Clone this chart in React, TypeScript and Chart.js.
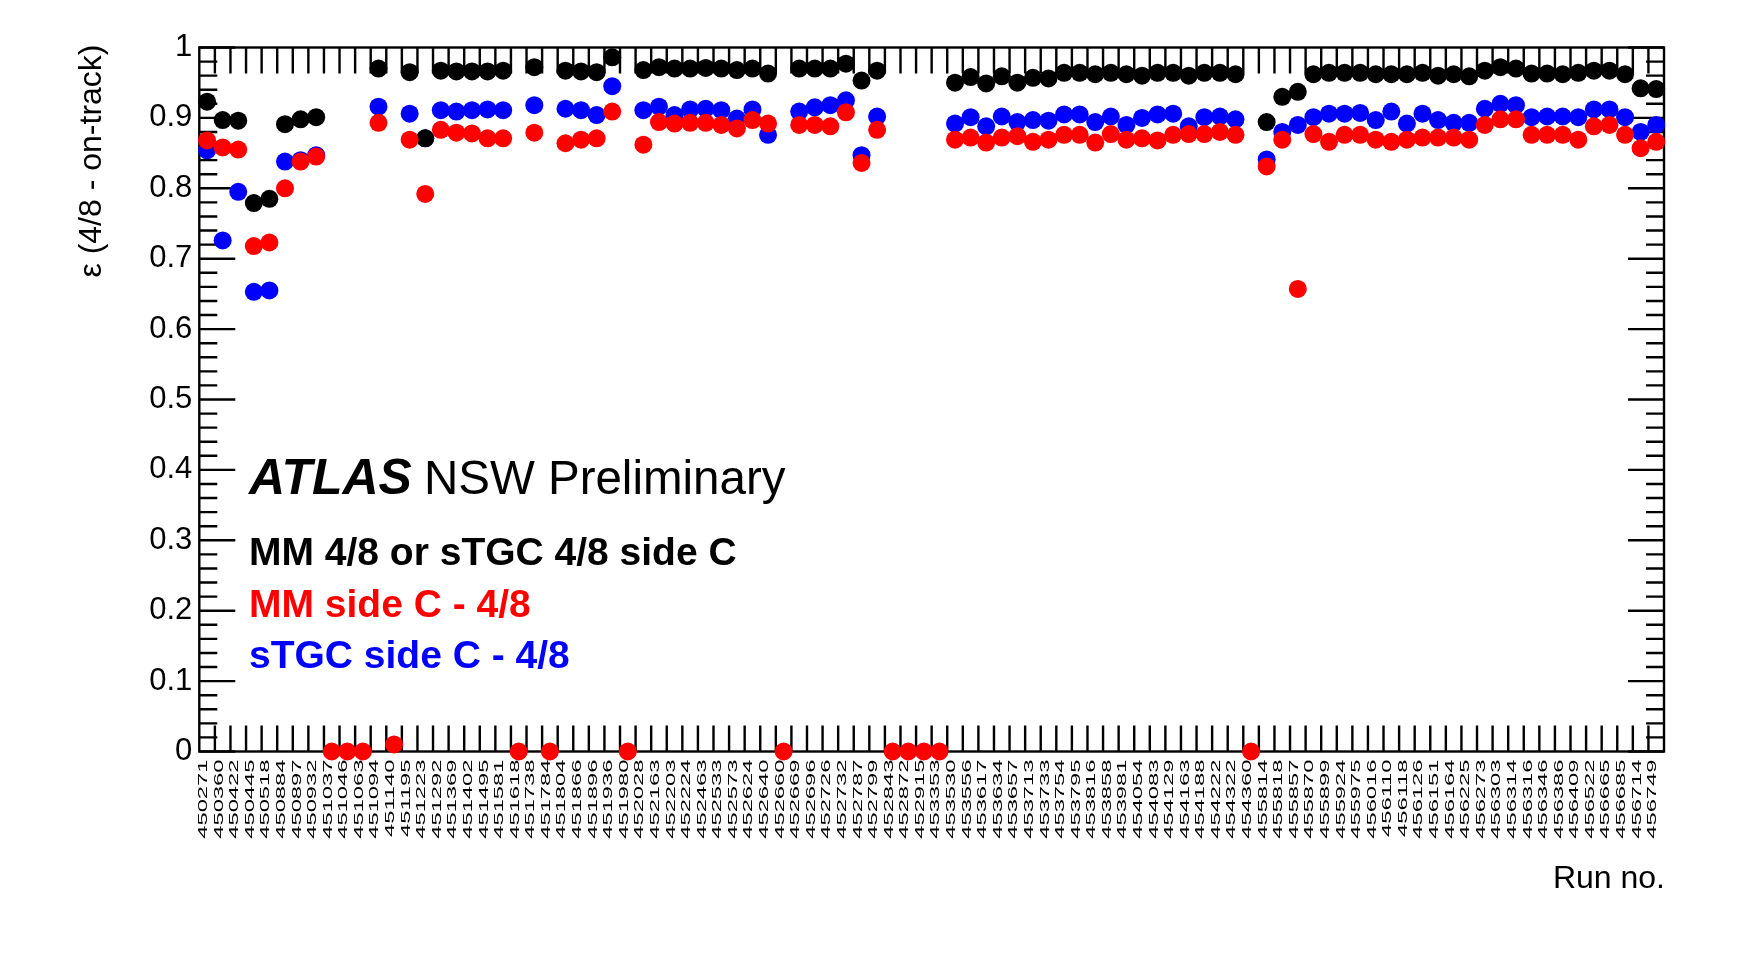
import { useEffect, useRef } from "react";
import { Chart, registerables } from "chart.js";

Chart.register(...registerables);

// run numbers on the x axis
const runs = [
  "450271", "450360", "450422", "450445", "450518", "450884", "450897", "450932",
  "451037", "451046", "451063", "451094", "451140", "451195", "451223", "451292",
  "451369", "451402", "451495", "451581", "451618", "451738", "451784", "451804",
  "451866", "451896", "451936", "451980", "452028", "452163", "452203", "452224",
  "452463", "452533", "452573", "452624", "452640", "452660", "452669", "452696",
  "452726", "452732", "452787", "452799", "452843", "452872", "452915", "453353",
  "453530", "453556", "453617", "453634", "453657", "453713", "453733", "453754",
  "453795", "453816", "453858", "453981", "454054", "454083", "454129", "454163",
  "454188", "454222", "454322", "454360", "455814", "455818", "455857", "455870",
  "455899", "455924", "455975", "456016", "456110", "456118", "456126", "456151",
  "456164", "456225", "456273", "456303", "456314", "456316", "456346", "456386",
  "456409", "456522", "456665", "456685", "456714", "456749",
];

// MM 4/8 or sTGC 4/8 side C
const combined = [
  0.923, 0.897, 0.896, 0.779, 0.785, 0.891, 0.898, 0.901,
  null, null, null, 0.970, null, 0.965, 0.871, 0.967,
  0.966, 0.966, 0.966, 0.967, null, 0.972, null, 0.967,
  0.966, 0.965, 0.986, null, 0.968, 0.972, 0.970, 0.970,
  0.971, 0.970, 0.968, 0.970, 0.963, null, 0.970, 0.970,
  0.970, 0.977, 0.953, 0.967, null, null, null, null,
  0.950, 0.958, 0.949, 0.959, 0.950, 0.957, 0.956, 0.964,
  0.964, 0.962, 0.964, 0.962, 0.960, 0.964, 0.964, 0.960,
  0.964, 0.964, 0.962, null, 0.894, 0.930, 0.937, 0.962,
  0.964, 0.964, 0.964, 0.962, 0.962, 0.962, 0.964, 0.960,
  0.962, 0.959, 0.967, 0.972, 0.970, 0.963, 0.963, 0.962,
  0.964, 0.967, 0.967, 0.962, 0.942, 0.941,
];

// MM side C - 4/8
const mmSideC = [
  0.868, 0.858, 0.855, 0.718, 0.723, 0.800, 0.838, 0.845,
  0, 0, 0, 0.893, 0.01, 0.869, 0.792, 0.883,
  0.879, 0.878, 0.871, 0.871, 0, 0.879, 0, 0.864,
  0.869, 0.871, 0.909, 0, 0.862, 0.894, 0.892, 0.893,
  0.893, 0.890, 0.885, 0.897, 0.892, 0, 0.890, 0.890,
  0.888, 0.908, 0.836, 0.883, 0, 0, 0, 0,
  0.869, 0.872, 0.865, 0.872, 0.874, 0.866, 0.869, 0.876,
  0.876, 0.865, 0.877, 0.869, 0.871, 0.868, 0.876, 0.877,
  0.877, 0.880, 0.876, 0, 0.831, 0.869, 0.657, 0.877,
  0.866, 0.876, 0.876, 0.869, 0.866, 0.869, 0.872, 0.872,
  0.872, 0.869, 0.890, 0.898, 0.898, 0.876, 0.876, 0.876,
  0.869, 0.888, 0.890, 0.876, 0.857, 0.866,
];

// sTGC side C - 4/8
const stgcSideC = [
  0.854, 0.726, 0.795, 0.653, 0.655, 0.838, 0.840, 0.847,
  null, null, null, 0.916, null, 0.906, 0.871, 0.911,
  0.909, 0.911, 0.912, 0.911, null, 0.918, null, 0.913,
  0.911, 0.904, 0.945, null, 0.911, 0.916, 0.904, 0.912,
  0.913, 0.911, 0.899, 0.912, 0.876, null, 0.909, 0.915,
  0.918, 0.925, 0.847, 0.902, null, null, null, null,
  0.892, 0.901, 0.888, 0.902, 0.894, 0.897, 0.896, 0.905,
  0.905, 0.894, 0.902, 0.890, 0.900, 0.905, 0.906, 0.888,
  0.901, 0.902, 0.898, null, 0.841, 0.880, 0.890, 0.901,
  0.906, 0.906, 0.907, 0.897, 0.909, 0.892, 0.906, 0.897,
  0.893, 0.893, 0.913, 0.920, 0.918, 0.901, 0.902, 0.902,
  0.901, 0.912, 0.912, 0.901, 0.880, 0.890,
];

const FONT = "'Liberation Sans', Arial, Helvetica, sans-serif";

const rootFrame = {
  id: "rootFrame",
  beforeDatasetsDraw(chart: any) {
    const { ctx, chartArea: a, scales } = chart;
    const xs = scales.x;
    const ys = scales.y;
    ctx.save();
    ctx.strokeStyle = "#000";
    ctx.lineWidth = 2.4;
    ctx.beginPath();
    // y ticks, both sides, pointing inward
    for (let i = 0; i <= 50; i++) {
      const py = ys.getPixelForValue(i / 50);
      const len = i % 5 === 0 ? 36 : 18;
      ctx.moveTo(a.left, py);
      ctx.lineTo(a.left + len, py);
      ctx.moveTo(a.right, py);
      ctx.lineTo(a.right - len, py);
    }
    // x ticks at bin edges
    for (let i = 0; i < runs.length - 1; i++) {
      const px = (xs.getPixelForValue(i) + xs.getPixelForValue(i + 1)) / 2;
      ctx.moveTo(px, a.top);
      ctx.lineTo(px, a.top + 26);
      ctx.moveTo(px, a.bottom);
      ctx.lineTo(px, a.bottom - 26);
    }
    ctx.stroke();
    ctx.strokeRect(a.left, a.top, a.right - a.left, a.bottom - a.top);
    ctx.restore();
  },
  afterDraw(chart: any) {
    const { ctx, chartArea: a, scales } = chart;
    const xs = scales.x;
    ctx.save();
    ctx.fillStyle = "#000";

    // rotated run labels
    ctx.font = `12.5px ${FONT}`;
    ctx.textAlign = "right";
    ctx.textBaseline = "alphabetic";
    runs.forEach((r, i) => {
      const px = xs.getPixelForValue(i);
      ctx.save();
      ctx.translate(px, a.bottom + 8);
      ctx.rotate(-Math.PI / 2);
      ctx.scale(1.9, 1);
      ctx.fillText(r, 0, 0);
      ctx.restore();
    });

    // axis titles
    ctx.font = `32px ${FONT}`;
    ctx.textAlign = "right";
    ctx.fillText("Run no.", a.right + 1, 888);
    ctx.save();
    ctx.translate(101, a.top - 3);
    ctx.rotate(-Math.PI / 2);
    ctx.fillText("ε (4/8 - on-track)", 0, 0);
    ctx.restore();

    // ATLAS label
    ctx.textAlign = "left";
    ctx.font = `italic bold 50px ${FONT}`;
    ctx.fillText("ATLAS", 249, 494);
    const w = ctx.measureText("ATLAS").width;
    ctx.font = `47.5px ${FONT}`;
    ctx.fillText("NSW Preliminary", 249 + w + 12, 494);

    // legend text
    ctx.font = `bold 39px ${FONT}`;
    ctx.fillStyle = "#000";
    ctx.fillText("MM 4/8 or sTGC 4/8 side C", 249, 565);
    ctx.fillStyle = "#ff0000";
    ctx.fillText("MM side C - 4/8", 249, 617);
    ctx.fillStyle = "#0000ff";
    ctx.fillText("sTGC side C - 4/8", 249, 668);
    ctx.restore();
  },
};

const marker = (color: string) => ({
  showLine: false,
  pointStyle: "circle" as const,
  pointRadius: 9,
  pointHoverRadius: 9,
  pointBorderWidth: 0,
  borderWidth: 0,
  pointBackgroundColor: color,
  borderColor: color,
  clip: false as const,
});

const EfficiencyChart = () => {
  const chartRef = useRef<HTMLCanvasElement | null>(null);
  const chartInstanceRef = useRef<Chart | null>(null);

  useEffect(() => {
    if (!chartRef.current) return;
    const ctx = chartRef.current.getContext("2d");
    if (!ctx) return;
    if (chartInstanceRef.current) chartInstanceRef.current.destroy();

    chartInstanceRef.current = new Chart(ctx, {
      type: "line",
      data: {
        labels: runs,
        datasets: [
          { label: "MM side C - 4/8", data: mmSideC, ...marker("#ff0000") },
          { label: "MM 4/8 or sTGC 4/8 side C", data: combined, ...marker("#000000") },
          { label: "sTGC side C - 4/8", data: stgcSideC, ...marker("#0000ff") },
        ],
      },
      options: {
        responsive: false,
        animation: false,
        layout: { padding: { left: 0, top: 47.5, right: 96, bottom: 0 } },
        plugins: {
          legend: { display: false },
          tooltip: { enabled: false },
        },
        scales: {
          x: {
            type: "category",
            offset: true,
            grid: { display: false, drawTicks: false },
            border: { display: false },
            ticks: { display: false },
            afterFit: (s: any) => {
              s.height = 216.5;
            },
          },
          y: {
            min: 0,
            max: 1,
            grid: { display: false, drawTicks: false },
            border: { display: false },
            ticks: {
              stepSize: 0.1,
              padding: 7,
              color: "#000",
              font: { family: FONT, size: 31 },
              callback: (v: any) => String(Math.round(Number(v) * 10) / 10),
            },
            afterFit: (s: any) => {
              s.width = 199.3;
            },
          },
        },
      },
      plugins: [rootFrame],
    });

    return () => {
      if (chartInstanceRef.current) {
        chartInstanceRef.current.destroy();
        chartInstanceRef.current = null;
      }
    };
  }, []);

  return (
    <div style={{ position: "absolute", left: 0, top: 0, width: 1760, height: 968, background: "#fff" }}>
      <canvas ref={chartRef} width={1760} height={968} style={{ width: 1760, height: 968 }} />
    </div>
  );
};

export default function App() {
  return <EfficiencyChart />;
}
